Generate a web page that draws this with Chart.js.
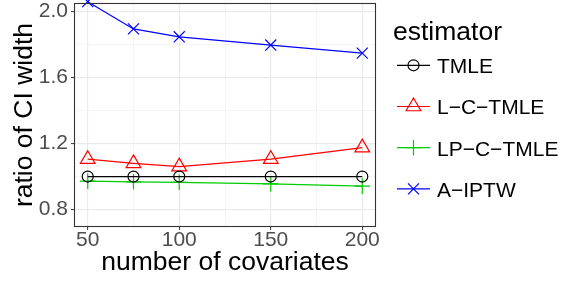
<!DOCTYPE html>
<html><head><meta charset="utf-8">
<script src="https://cdn.jsdelivr.net/npm/chart.js@4.4.1/dist/chart.umd.min.js"></script>
<style>html,body{margin:0;padding:0;background:#fff;overflow:hidden}canvas{display:block}</style>
</head><body>
<canvas id="c" width="570" height="281"></canvas>
<script>
// ---- data ----
const covariates = [50, 75, 100, 150, 200];
const seriesNames = ['TMLE', 'L\u2212C\u2212TMLE', 'LP\u2212C\u2212TMLE', 'A\u2212IPTW'];
const tmle    = [1.0, 1.0, 1.0, 1.0, 1.0];
const lcTmle  = [1.105, 1.08, 1.06, 1.105, 1.175];
const lpcTmle = [0.972, 0.968, 0.965, 0.955, 0.942];
const aIptw   = [2.06, 1.895, 1.847, 1.797, 1.748];
const xMajorTicks = [50, 100, 150, 200];
const xMinorTicks = [75, 125, 175];
const yMajorTicks = [0.8, 1.2, 1.6, 2.0];
const yMinorTicks = [1.0, 1.4, 1.8];
const legendTitle = 'estimator';
const xTitle = 'number of covariates';
const yTitle = 'ratio of CI width';

// ---- styles ----
const FONT = '"Liberation Sans", Arial, Helvetica, sans-serif';
Chart.defaults.font.family = FONT;
const styles = [
  {color: '#000000', pointStyle: 'circle',   radius: 5.5},
  {color: '#FF0000', pointStyle: 'triangle', radius: 8.5},
  {color: '#00CD00', pointStyle: 'cross',    radius: 7.8},
  {color: '#0000FF', pointStyle: 'crossRot', radius: 7.8}
];
const seriesValues = [tmle, lcTmle, lpcTmle, aIptw];

const datasets = seriesValues.map((vals, i) => ({
  label: seriesNames[i],
  data: covariates.map((x, j) => ({x: x, y: vals[j]})),
  borderColor: styles[i].color,
  backgroundColor: 'rgba(0,0,0,0)',
  borderWidth: 1.2,
  tension: 0,
  pointStyle: styles[i].pointStyle,
  pointRadius: styles[i].radius,
  pointHoverRadius: styles[i].radius,
  pointBorderWidth: 1.2,
  pointBorderColor: styles[i].color,
  pointBackgroundColor: 'rgba(0,0,0,0)',
  clip: false
}));

const isIn = (arr, v) => arr.some(a => Math.abs(a - v) < 1e-9);

const panelBorder = {
  id: 'panelBorder',
  afterDatasetsDraw(chart) {
    const {ctx, chartArea: a} = chart;
    ctx.save();
    ctx.strokeStyle = '#333333';
    ctx.lineWidth = 1.1;
    ctx.strokeRect(Math.round(a.left) + 0.5, Math.round(a.top) + 0.5,
                   Math.round(a.right - a.left) - 1, Math.round(a.bottom - a.top) - 1);
    ctx.restore();
  }
};

const ggLegend = {
  id: 'ggLegend',
  afterDraw(chart) {
    const ctx = chart.ctx;
    ctx.save();
    ctx.textAlign = 'left';
    ctx.textBaseline = 'alphabetic';
    ctx.fillStyle = '#000';
    ctx.font = '26.5px ' + FONT;
    ctx.fillText(legendTitle, 393, 40);
    chart.data.datasets.forEach((ds, i) => {
      const cy = 65.3 + i * 41.2;
      ctx.strokeStyle = ds.borderColor;
      ctx.lineWidth = ds.borderWidth;
      ctx.beginPath();
      ctx.moveTo(397, cy); ctx.lineTo(430, cy);
      ctx.stroke();
      ctx.fillStyle = 'rgba(0,0,0,0)';
      ctx.lineWidth = ds.pointBorderWidth;
      Chart.helpers.drawPoint(ctx, {pointStyle: ds.pointStyle, radius: ds.pointRadius,
        borderWidth: ds.pointBorderWidth, rotation: 0}, 413.5, cy);
      ctx.fillStyle = '#000';
      ctx.font = '21px ' + FONT;
      ctx.fillText(ds.label, 437, cy + 7.8);
    });
    ctx.restore();
  }
};

new Chart(document.getElementById('c'), {
  type: 'line',
  data: {datasets: datasets},
  plugins: [panelBorder, ggLegend],
  options: {
    responsive: false,
    animation: false,
    devicePixelRatio: 1,
    layout: {autoPadding: false, padding: {left: 0, right: 194, top: 3, bottom: 0}},
    plugins: {legend: {display: false}, tooltip: {enabled: false}},
    scales: {
      x: {
        type: 'linear', min: 42.5, max: 207.5,
        afterBuildTicks: s => {
          s.ticks = xMajorTicks.concat(xMinorTicks).sort((a, b) => a - b).map(v => ({value: v}));
        },
        afterFit: s => { s.height = 54; s.paddingLeft = 0; s.paddingRight = 0; },
        ticks: {
          autoSkip: false, maxRotation: 0, padding: 0,
          color: '#4D4D4D', font: {size: 21, lineHeight: 1},
          callback: v => isIn(xMajorTicks, v) ? String(v) : ''
        },
        grid: {
          drawTicks: true, tickLength: 3,
          color: c => isIn(xMajorTicks, c.tick.value) ? '#EBEBEB' : '#F3F3F3',
          lineWidth: c => isIn(xMajorTicks, c.tick.value) ? 1.2 : 0.8,
          tickColor: c => isIn(xMajorTicks, c.tick.value) ? '#333333' : 'rgba(0,0,0,0)',
          tickWidth: 1
        },
        border: {display: false},
        title: {display: true, text: xTitle, color: '#000', font: {size: 26.5},
                padding: {top: 0, bottom: 2.3}}
      },
      y: {
        type: 'linear', min: 0.694, max: 2.052,
        afterBuildTicks: s => {
          s.ticks = yMajorTicks.concat(yMinorTicks).sort((a, b) => a - b).map(v => ({value: v}));
        },
        afterFit: s => { s.width = 74; s.paddingTop = 0; s.paddingBottom = 0; },
        ticks: {
          autoSkip: false, padding: 3,
          color: '#4D4D4D', font: {size: 21, lineHeight: 1},
          callback: v => isIn(yMajorTicks, v) ? v.toFixed(1) : ''
        },
        grid: {
          drawTicks: true, tickLength: 3,
          color: c => isIn(yMajorTicks, c.tick.value) ? '#EBEBEB' : '#F3F3F3',
          lineWidth: c => isIn(yMajorTicks, c.tick.value) ? 1.2 : 0.8,
          tickColor: c => isIn(yMajorTicks, c.tick.value) ? '#333333' : 'rgba(0,0,0,0)',
          tickWidth: 1
        },
        border: {display: false},
        title: {display: true, text: yTitle, color: '#000', font: {size: 26.5},
                padding: {top: 9, bottom: 0}}
      }
    }
  }
});
</script>
</body></html>
